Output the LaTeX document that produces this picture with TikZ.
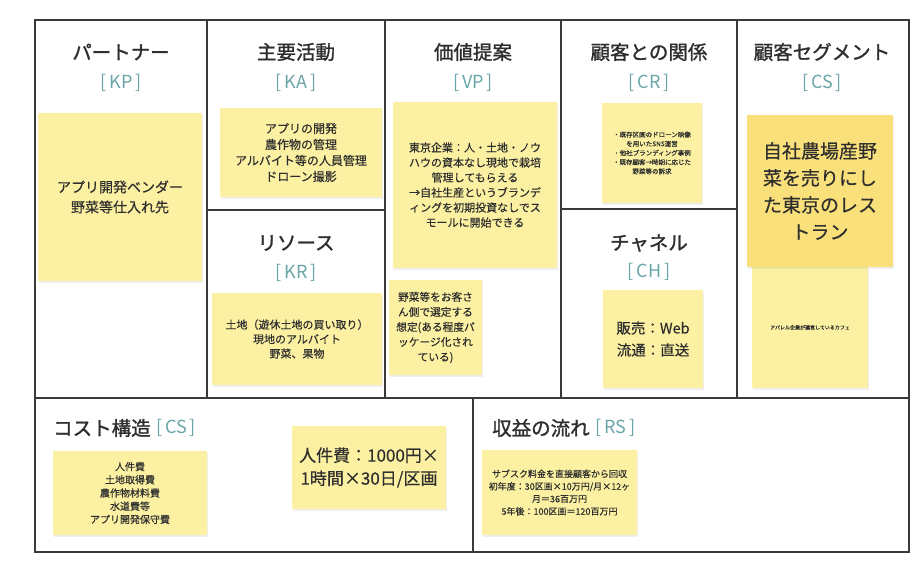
\documentclass[tikz,border=0pt]{standalone}
\usepackage{fontspec}
\setmainfont[FakeBold=0.4]{Noto Sans CJK JP}
\newfontfamily\headfont[FakeBold=1.3]{Noto Sans CJK JP}
\newfontfamily\codefont{Noto Sans CJK JP}
\usetikzlibrary{positioning,shadows}
\definecolor{ink}{HTML}{2E2E2E}
\definecolor{frame}{HTML}{3A3A3A}
\definecolor{codeteal}{HTML}{6AA6A8}
\definecolor{sticky}{HTML}{FCF1A2}
\definecolor{stickydeep}{HTML}{FAE07A}
\begin{document}
\begin{tikzpicture}[x=1pt,y=-1pt]
   \tikzstyle{title}=[text=ink, font=\headfont\fontsize{19.5}{22}\selectfont, inner sep=0pt]
   \tikzstyle{code}=[text=codeteal, font=\codefont\fontsize{18}{20}\selectfont, inner sep=0pt]
   \tikzstyle{note}=[fill=sticky, text=ink, align=center, inner sep=0pt,
     drop shadow={opacity=0.12, shadow xshift=1pt, shadow yshift=-1.5pt}]
   \tikzstyle{divider}=[draw=frame, line width=1.6pt]
   \useasboundingbox[fill=white] (0,0) rectangle (922,566);
   \draw[divider] (207,20) -- (207,398);
   \draw[divider] (385,20) -- (385,398);
   \draw[divider] (561,20) -- (561,398);
   \draw[divider] (737,20) -- (737,398);
   \draw[divider] (207,210) -- (385,210);
   \draw[divider] (561,209) -- (737,209);
   \draw[divider] (35,398) -- (909,398);
   \draw[divider] (473,398) -- (473,552);
   \draw[draw=frame, line width=2.5pt] (35,20) rectangle (909,552);
   \node[title] (kpTitle) at (121,52) {パートナー};
   \node[code] (kpCode) at (121,83) {[\,KP\,]};
   \node[title] (kaTitle) at (296,52) {主要活動};
   \node[code] (kaCode) at (296,83) {[\,KA\,]};
   \node[title] (vpTitle) at (473,52) {価値提案};
   \node[code] (vpCode) at (473,83) {[\,VP\,]};
   \node[title] (crTitle) at (649,52) {顧客との関係};
   \node[code] (crCode) at (649,83) {[\,CR\,]};
   \node[title] (csTitle) at (822,52) {顧客セグメント};
   \node[code] (csCode) at (822,83) {[\,CS\,]};
   \node[title] (krTitle) at (296,243) {リソース};
   \node[code] (krCode) at (296,273) {[\,KR\,]};
   \node[title] (chTitle) at (649,243) {チャネル};
   \node[code] (chCode) at (649,272) {[\,CH\,]};
   \node[title, anchor=west] (costTitle) at (53,428) {コスト構造};
   \node[code, right=5pt of costTitle] (costCode) {[\,CS\,]};
   \node[title, anchor=west] (rsTitle) at (492,428) {収益の流れ};
   \node[code, right=5pt of rsTitle] (rsCode) {[\,RS\,]};
   \node[note, minimum width=164pt, minimum height=168pt, font=\fontsize{14}{20}\selectfont] (kpNote) at (120,197)
     {アプリ開発ベンダー\\野菜等仕入れ先};
   \node[note, minimum width=162pt, minimum height=89pt, font=\fontsize{12}{16}\selectfont] (kaNote) at (301,152.5)
     {アプリの開発\\農作物の管理\\アルバイト等の人員管理\\ドローン撮影};
   \node[note, minimum width=170pt, minimum height=92pt, font=\fontsize{11}{14.5}\selectfont] (krNote) at (297,339)
     {土地（遊休土地の買い取り）\\現地のアルバイト\\野菜、果物};
   \node[note, minimum width=164pt, minimum height=166pt, font=\fontsize{11}{15}\selectfont] (vpNote) at (475,185)
     {東京企業：人・土地・ノウ\\ハウの資本なし現地で栽培\\管理してもらえる\\→自社生産というブランデ\\ィングを初期投資なしでス\\モールに開始できる};
   \node[note, minimum width=93pt, minimum height=95pt, font=\fontsize{10.7}{15}\selectfont] (vpSub) at (435.5,327.5)
     {野菜等をお客さ\\ん側で選定する\\想定(ある程度パ\\ッケージ化され\\ている)};
   \node[note, minimum width=100pt, minimum height=100pt, font=\fontsize{6.5}{9.2}\selectfont] (crNote) at (652,153)
     {・既存区画のドローン映像\\を用いたSNS運営\\・他社ブランディング事例\\・既存顧客→時期に応じた\\野菜等の訴求};
   \node[note, minimum width=100pt, minimum height=98pt, font=\fontsize{14.5}{22}\selectfont] (chNote) at (653,339)
     {販売：Web\\流通：直送};
   \node[note, minimum width=116pt, minimum height=121pt, font=\fontsize{5}{6}\selectfont] (csSub) at (810,327.5)
     {アパレル企業が運営しているカフェ};
   \node[note, fill=stickydeep, minimum width=146pt, minimum height=152pt, font=\fontsize{19}{27}\selectfont] (csNote) at (820,191)
     {自社農場産野\\菜を売りにし\\た東京のレス\\トラン};
   \node[note, minimum width=154pt, minimum height=84pt, font=\fontsize{10}{13.2}\selectfont] (costNote) at (130,493)
     {人件費\\土地取得費\\農作物材料費\\水道費等\\アプリ開発保守費};
   \node[note, minimum width=154pt, minimum height=83pt, font=\fontsize{17}{23}\selectfont] (laborNote) at (369,467.5)
     {人件費：1000円×\\1時間×30日/区画};
   \node[note, minimum width=155pt, minimum height=85pt, font=\fontsize{9}{12.5}\selectfont] (rsNote) at (559.5,492.5)
     {サブスク料金を直接顧客から回収\\初年度：30区画×10万円/月×12ヶ\\月＝36百万円\\5年後：100区画＝120百万円};
\end{tikzpicture}
\end{document}
